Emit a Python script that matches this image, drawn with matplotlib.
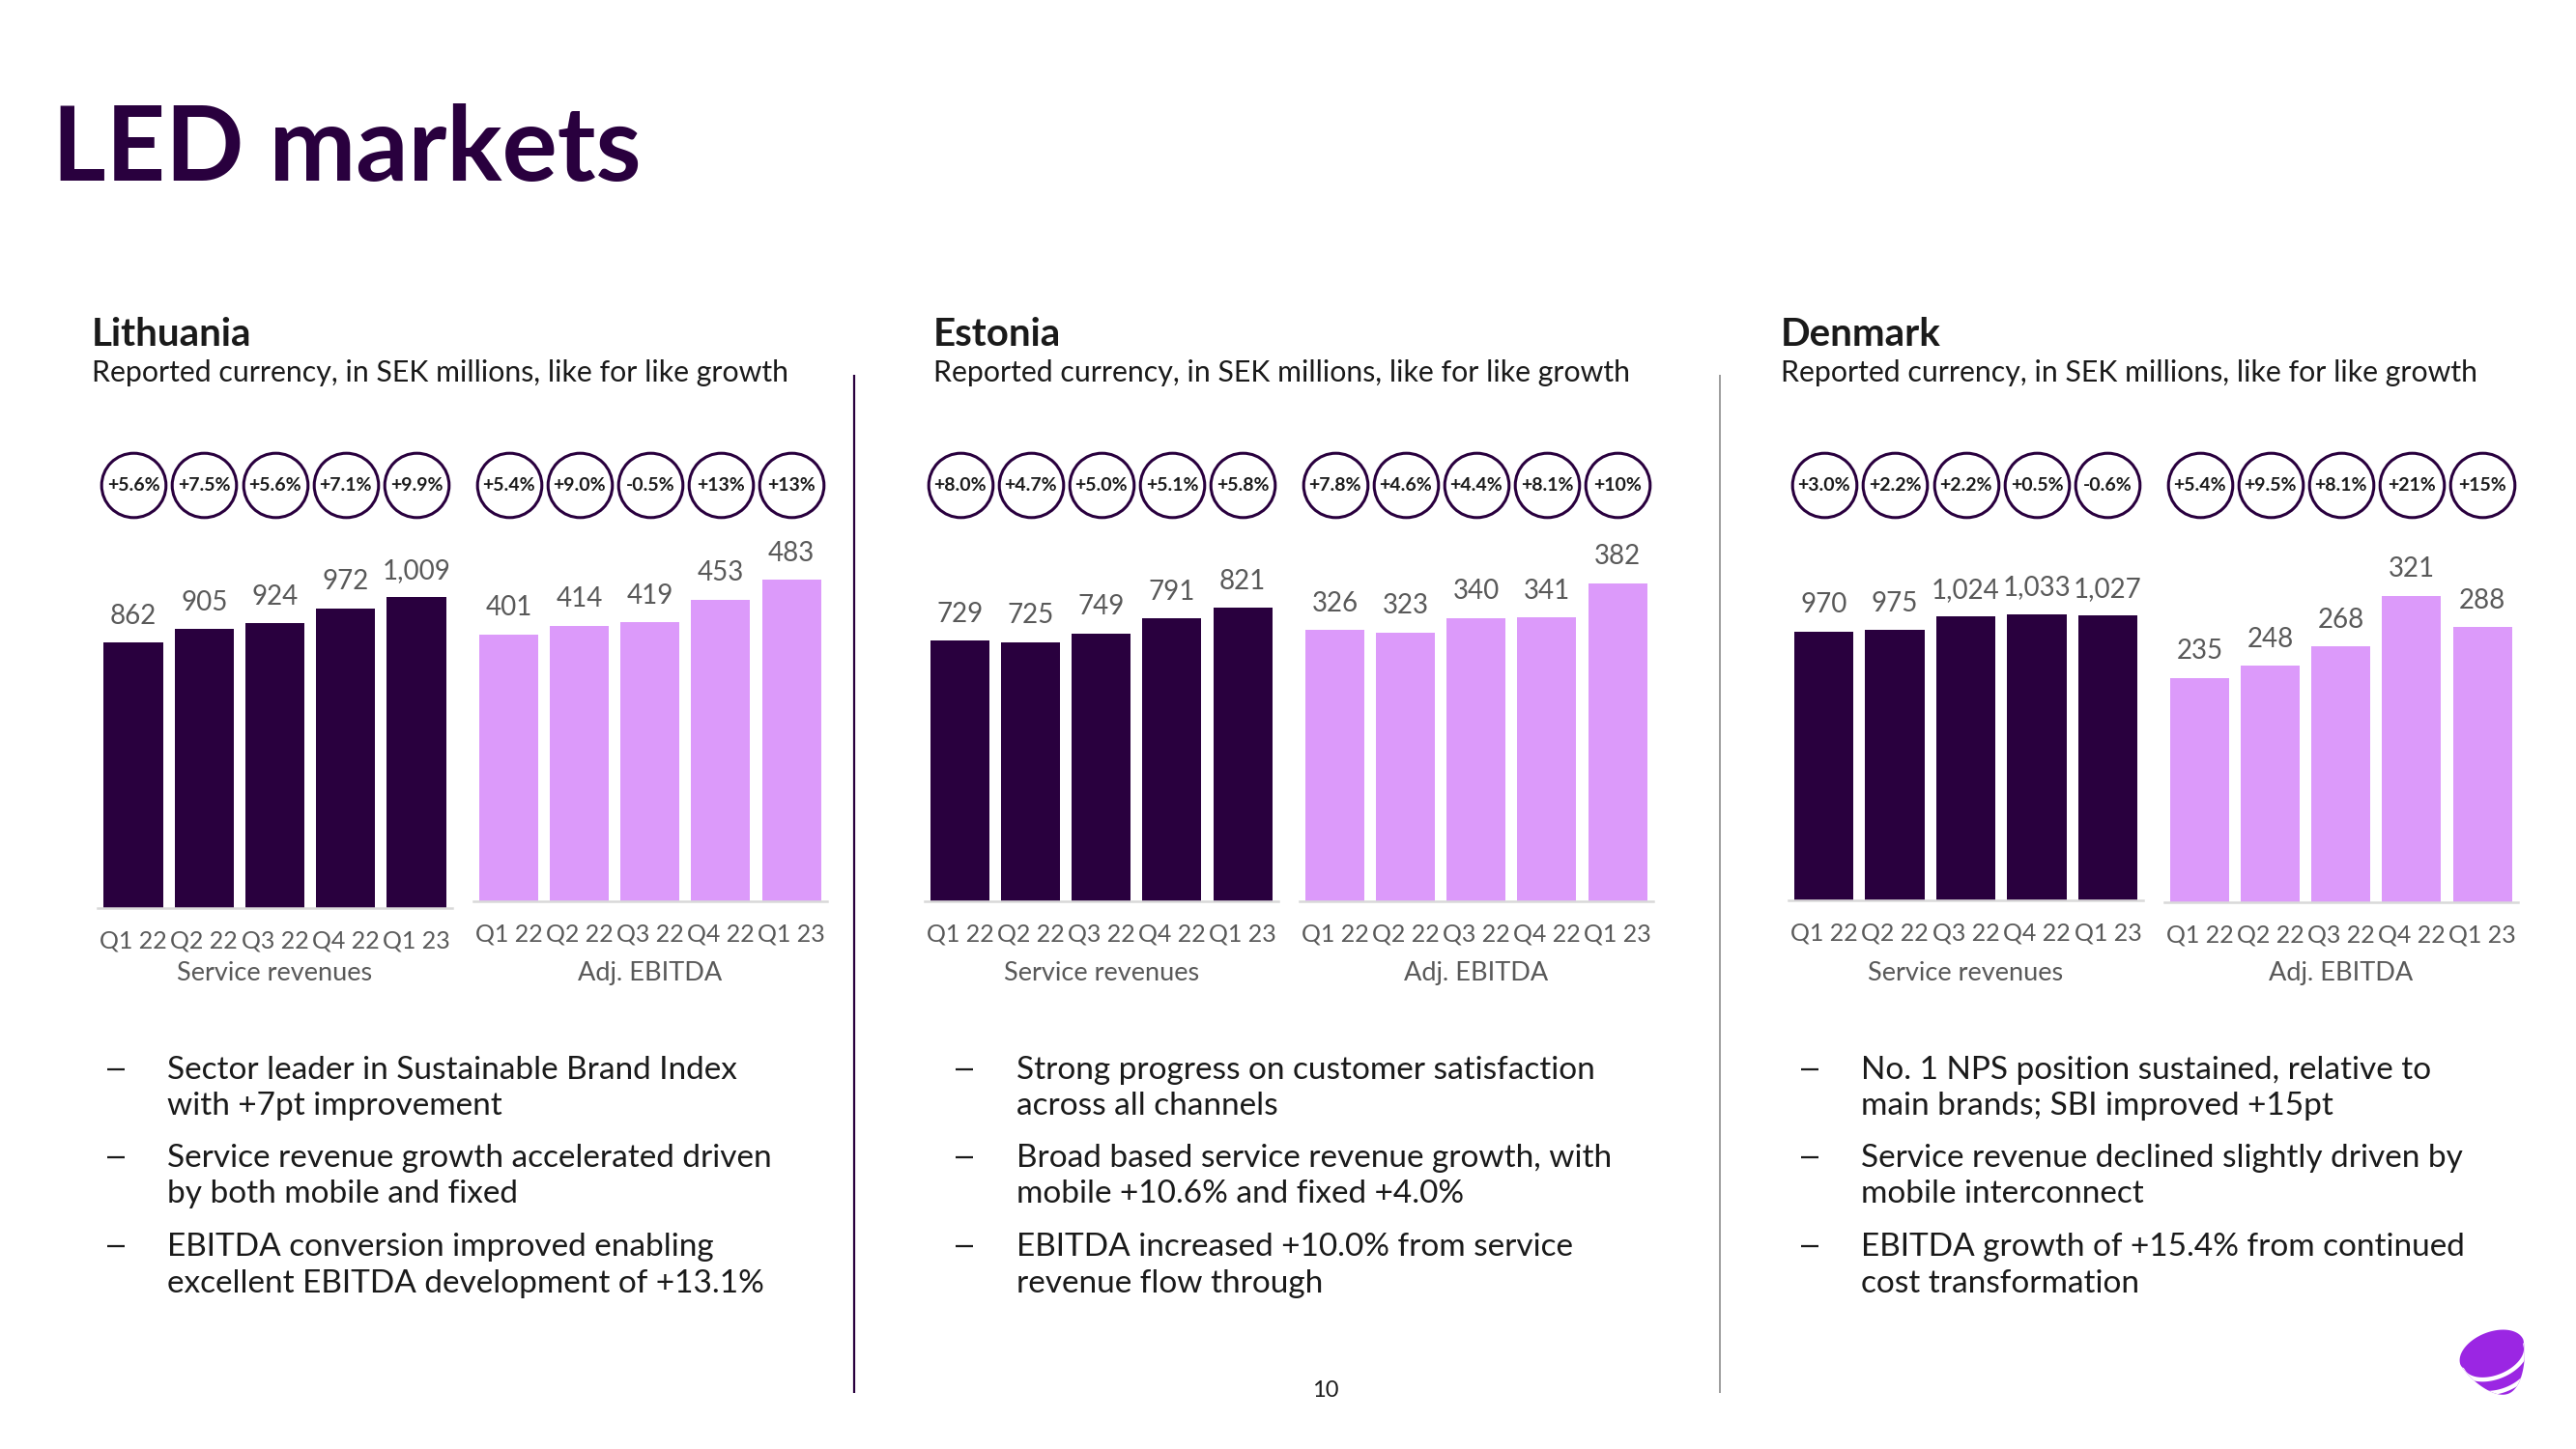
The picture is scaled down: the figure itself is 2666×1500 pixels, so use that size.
import matplotlib
matplotlib.use("Agg")
import matplotlib.pyplot as plt
from matplotlib import transforms as mtransforms
from matplotlib.patches import Polygon
import numpy as np

# ---------------- data ----------------
quarters = ["Q1 22", "Q2 22", "Q3 22", "Q4 22", "Q1 23"]
chart_titles = ["Service revenues", "Adj. EBITDA"]
countries = ["Lithuania", "Estonia", "Denmark"]
subtitle = "Reported currency, in SEK millions, like for like growth"

lt_service = [862, 905, 924, 972, 1009]
lt_ebitda = [401, 414, 419, 453, 483]
ee_service = [729, 725, 749, 791, 821]
ee_ebitda = [326, 323, 340, 341, 382]
dk_service = [970, 975, 1024, 1033, 1027]
dk_ebitda = [235, 248, 268, 321, 288]

lt_service_growth = ["+5.6%", "+7.5%", "+5.6%", "+7.1%", "+9.9%"]
lt_ebitda_growth = ["+5.4%", "+9.0%", "-0.5%", "+13%", "+13%"]
ee_service_growth = ["+8.0%", "+4.7%", "+5.0%", "+5.1%", "+5.8%"]
ee_ebitda_growth = ["+7.8%", "+4.6%", "+4.4%", "+8.1%", "+10%"]
dk_service_growth = ["+3.0%", "+2.2%", "+2.2%", "+0.5%", "-0.6%"]
dk_ebitda_growth = ["+5.4%", "+9.5%", "+8.1%", "+21%", "+15%"]

lt_bullets = [
    ["Sector leader in Sustainable Brand Index", "with +7pt improvement"],
    ["Service revenue growth accelerated driven", "by both mobile and fixed"],
    ["EBITDA conversion improved enabling", "excellent EBITDA development of +13.1%"],
]
ee_bullets = [
    ["Strong progress on customer satisfaction", "across all channels"],
    ["Broad based service revenue growth, with", "mobile +10.6% and fixed +4.0%"],
    ["EBITDA increased +10.0% from service", "revenue flow through"],
]
dk_bullets = [
    ["No. 1 NPS position sustained, relative to", "main brands; SBI improved +15pt"],
    ["Service revenue declined slightly driven by", "mobile interconnect"],
    ["EBITDA growth of +15.4% from continued", "cost transformation"],
]
page_number = "10"

# ---------------- style / layout ----------------
W, H, DPI = 2666, 1500, 100
DARK = "#29003E"
LIGHT = "#DC9AFA"
TXT = "#1A1A1A"
GREY = "#595959"
AXIS_GREY = "#D9D9D9"
LOGO = "#9B26E3"

plt.rcParams["font.family"] = ["Lato", "DejaVu Sans"]

fig = plt.figure(figsize=(W / DPI, H / DPI), dpi=DPI)
fig.patch.set_facecolor("white")
ov = fig.add_axes([0, 0, 1, 1])
ov.set_xlim(0, W)
ov.set_ylim(H, 0)
ov.axis("off")
px = ov.transData

# title
ov.text(54, 187, "LED markets", fontsize=77, fontweight="bold", color=DARK,
        ha="left", va="baseline")

# headers
header_x = [95, 966, 1843]
for x, name in zip(header_x, countries):
    ov.text(x, 358, name, fontsize=29, fontweight="bold", color=TXT, va="baseline")
    ov.text(x, 395, subtitle, fontsize=21.8, color=TXT, va="baseline")

# dividers
ov.plot([884, 884], [388, 1442], color=DARK, lw=1.6, solid_capstyle="butt")
ov.plot([1780, 1780], [388, 1442], color="#8C8C8C", lw=1.2, solid_capstyle="butt")

# charts: values, growth, color, x0, x1, baseline(px), px per unit
charts = [
    (lt_service, lt_service_growth, DARK, 101.4, 467.6, 940, 0.319, chart_titles[0]),
    (lt_ebitda, lt_ebitda_growth, LIGHT, 490.0, 855.6, 933, 0.689, chart_titles[1]),
    (ee_service, ee_service_growth, DARK, 957.0, 1322.6, 933, 0.370, chart_titles[0]),
    (ee_ebitda, ee_ebitda_growth, LIGHT, 1345.0, 1710.6, 933, 0.862, chart_titles[1]),
    (dk_service, dk_service_growth, DARK, 1850.8, 2218.2, 932, 0.287, chart_titles[0]),
    (dk_ebitda, dk_ebitda_growth, LIGHT, 2240.0, 2605.6, 934, 0.988, chart_titles[1]),
]
AX_TOP = 560
CIRCLE_Y = 502

for vals, growth, col, x0, x1, base, scale, ctitle in charts:
    ax = fig.add_axes([x0 / W, 1 - base / H, (x1 - x0) / W, (base - AX_TOP) / H])
    ax.patch.set_alpha(0)
    xs = np.arange(len(vals))
    ax.bar(xs, vals, width=0.835, color=col, zorder=2)
    for i, v in zip(xs, vals):
        ax.annotate(f"{v:,}", (i, v), xytext=(0, 14), textcoords="offset points",
                    ha="center", va="baseline", fontsize=20, color=GREY)
    bt = mtransforms.blended_transform_factory(ax.transData, px)
    ax.scatter(xs, [CIRCLE_Y] * len(xs), s=2300, facecolors="white",
               edgecolors=DARK, linewidths=2.2, transform=bt, clip_on=False, zorder=3)
    for i, g in zip(xs, growth):
        ax.text(i, CIRCLE_Y + 1, g, transform=bt, ha="center", va="center",
                fontsize=14, fontweight="bold", color=TXT, zorder=4)
    ax.set_xlim(-0.5, len(vals) - 0.5)
    ax.set_ylim(0, (base - AX_TOP) / scale)
    for s in ["top", "left", "right"]:
        ax.spines[s].set_visible(False)
    ax.spines["bottom"].set_color(AXIS_GREY)
    ax.spines["bottom"].set_linewidth(1.8)
    ax.set_yticks([])
    ax.set_xticks(xs)
    ax.set_xticklabels(quarters, fontsize=18, color=GREY)
    ax.tick_params(axis="x", length=0, pad=16)
    tt = mtransforms.blended_transform_factory(ax.transAxes, px)
    ax.text(0.5, 1015, ctitle, transform=tt, ha="center", va="baseline",
            fontsize=19.5, color=GREY)

# bullets
bullet_x = [(120, 173), (998, 1052), (1873, 1926)]
baselines = [(1117, 1154), (1208, 1245), (1300, 1338)]
for (dx, tx), bullets in zip(bullet_x, [lt_bullets, ee_bullets, dk_bullets]):
    for (b1, b2), lines in zip(baselines, bullets):
        ov.plot([dx - 9, dx + 9], [b1 - 10, b1 - 10], color=TXT, lw=1.6,
                solid_capstyle="butt")
        ov.text(tx, b1, lines[0], ha="left", va="baseline", fontsize=24, color=TXT)
        ov.text(tx, b2, lines[1], ha="left", va="baseline", fontsize=24, color=TXT)

# page number
ov.text(1372, 1446, page_number, ha="center", va="baseline", fontsize=17, color=TXT)

# logo (stylised pebble)
cx, cy, th = 2579, 1400, np.deg2rad(-22)
def rot(u, v):
    return cx + u * np.cos(th) - v * np.sin(th), cy + u * np.sin(th) + v * np.cos(th)
t = np.linspace(0, 2 * np.pi, 200)
u = 35 * np.cos(t)
v = np.where(np.sin(t) < 0, 21 * np.sin(t), 46 * np.sin(t))
u = np.where(np.sin(t) > 0, u * (1 - 0.25 * np.sin(t)), u)
xs_, ys_ = rot(u, v)
shape = Polygon(np.column_stack([xs_, ys_]), closed=True, facecolor=LOGO,
                edgecolor="none", zorder=5)
ov.add_patch(shape)
for off in [5, 20]:
    uu = np.linspace(-40, 40, 100)
    vv = 21 * np.sqrt(np.clip(1 - (uu / 35) ** 2, 0, 1)) + off
    lx, ly = rot(uu, vv)
    ln, = ov.plot(lx, ly, color="white", lw=3.2, zorder=6)
    ln.set_clip_path(shape)

fig.savefig("out.png", dpi=DPI, facecolor="white")
